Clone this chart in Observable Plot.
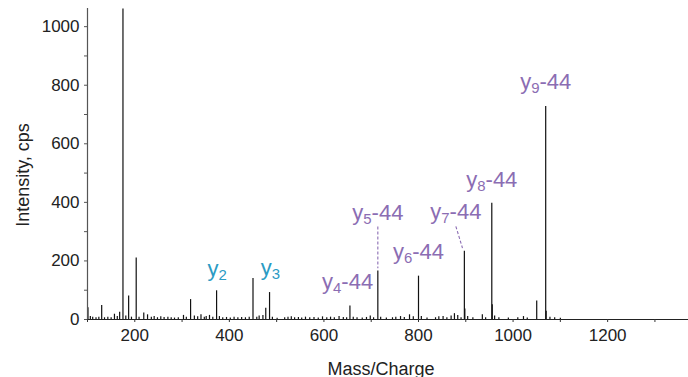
<!DOCTYPE html>
<html><head><meta charset="utf-8">
<script src="https://cdn.jsdelivr.net/npm/d3@7"></script>
<script src="https://cdn.jsdelivr.net/npm/@observablehq/plot@0.6"></script>
<style>body{margin:0;background:#fff}</style>
</head><body><div id="chart"></div>
<script>
// Spectrum peaks (m/z, intensity in cps)
const peakMz = [101,106,111,118,124,130,136,143,150,157,163,168,175,181,187,193,203,209,219,227,235,241,248,255,262,270,277,284,292,303,309,318,326,333,340,347,351,358,365,373,379,386,394,402,410,418,426,434,442,450,458,463,471,477,485,491,501,517,524,531,538,546,553,561,570,579,588,597,606,614,622,632,641,648,655,662,670,681,690,698,705,714,720,732,745,752,762,770,781,789,800,806,818,836,843,852,860,869,876,883,890,897,898,904,915,935,942,955,956,961,970,990,1010,1022,1030,1050,1069,1070,1078,1088,1100];
const peakIntensity = [40,10,8,6,8,48,6,8,6,18,10,25,1060,12,80,8,210,8,22,16,8,10,6,9,7,8,6,5,6,14,8,68,12,9,16,8,10,14,8,98,10,6,7,5,8,6,7,6,8,140,8,12,14,38,92,8,4,6,8,9,6,7,5,8,6,7,5,9,6,8,6,10,7,6,46,8,6,5,7,12,6,166,8,5,6,8,10,7,16,9,148,10,5,6,9,10,6,12,20,14,6,233,36,10,6,16,6,397,50,12,6,5,6,10,5,63,727,28,8,6,4];

// Annotated fragment ions
const ionNames = ["y2","y3","y4-44","y5-44","y6-44","y7-44","y8-44","y9-44"];
const ionType = ["y","y","y-44","y-44","y-44","y-44","y-44","y-44"];
const ionLabelMz = [374,487,650,714,800,879,955,1069];
const ionLabelIntensity = [148,151,104,339,206,342,451,788];

// Dashed leader lines for raised labels
const leaderTopMz = [714,879];
const leaderTopIntensity = [318,318];
const leaderBottomMz = [714,893];
const leaderBottomIntensity = [175,244];

const xTicks = d3.range(100, 1301, 100);
const yTicks = d3.range(0, 1001, 100);

const peaks = peakMz.map((mz, i) => ({mz, intensity: peakIntensity[i]}));
const ions = ionNames.map((name, i) => ({name, type: ionType[i], mz: ionLabelMz[i], intensity: ionLabelIntensity[i]}));
const leaders = leaderTopMz.map((m, i) => ({x1: m, y1: leaderTopIntensity[i], x2: leaderBottomMz[i], y2: leaderBottomIntensity[i]}));

const teal = "#2b9bc4", purple = "#8b6db3";

const svg = Plot.plot({
  width: 688, height: 377,
  marginLeft: 87, marginRight: 0, marginTop: 8, marginBottom: 58,
  style: {fontFamily: "'Liberation Sans', Arial, sans-serif", fontSize: "17px", color: "#222", background: "#fff"},
  x: {domain: [100, 1371]},
  y: {domain: [0, 1062]},
  marks: [
    Plot.ruleX(peaks, {x: "mz", y1: 0, y2: "intensity", stroke: "#111", strokeWidth: 1.2}),
    Plot.ruleY([0], {stroke: "#222", strokeWidth: 1.2}),
    Plot.ruleX([100], {stroke: "#555", strokeWidth: 1.2}),
    Plot.axisY({ticks: yTicks, tickSize: 3, tickPadding: 5, tickFormat: d => d % 200 === 0 ? String(d) : "", label: null, stroke: "#555", fontSize: 17, letterSpacing: 0.5}),
    Plot.axisX({ticks: xTicks, tickSize: 3, tickPadding: 6, tickFormat: d => d % 200 === 0 ? String(d) : "", label: null, stroke: "#333", fontSize: 17, letterSpacing: 0.5}),
    Plot.link(leaders, {x1: "x1", y1: "y1", x2: "x2", y2: "y2", stroke: purple, strokeWidth: 1.1, strokeDasharray: "3,2"}),
    Plot.text(ions, {x: "mz", y: "intensity", text: "name", lineAnchor: "bottom", fontSize: 22, letterSpacing: 1, fill: d => d.type === "y" ? teal : purple}),
    Plot.text(["Mass/Charge"], {frameAnchor: "bottom", dy: 55, dx: -7, lineAnchor: "bottom", textAnchor: "middle", fontSize: 18, letterSpacing: 0.6}),
    Plot.text(["Intensity, cps"], {frameAnchor: "left", rotate: -90, dx: -59, dy: 11, lineAnchor: "bottom", textAnchor: "middle", fontSize: 18, letterSpacing: 0.5})
  ]
});

// subscripts for ion labels
d3.select(svg).selectAll("text").each(function() {
  const m = /^y(\d)(.*)$/.exec(this.textContent);
  if (!m || this.querySelector("tspan")) return;
  const el = d3.select(this);
  el.text(null);
  el.append("tspan").text("y");
  el.append("tspan").attr("dy", 4).attr("font-size", "0.68em").text(m[1]);
  if (m[2]) el.append("tspan").attr("dy", -4).text(m[2]);
});

document.getElementById("chart").appendChild(svg);
</script>
</body></html>
